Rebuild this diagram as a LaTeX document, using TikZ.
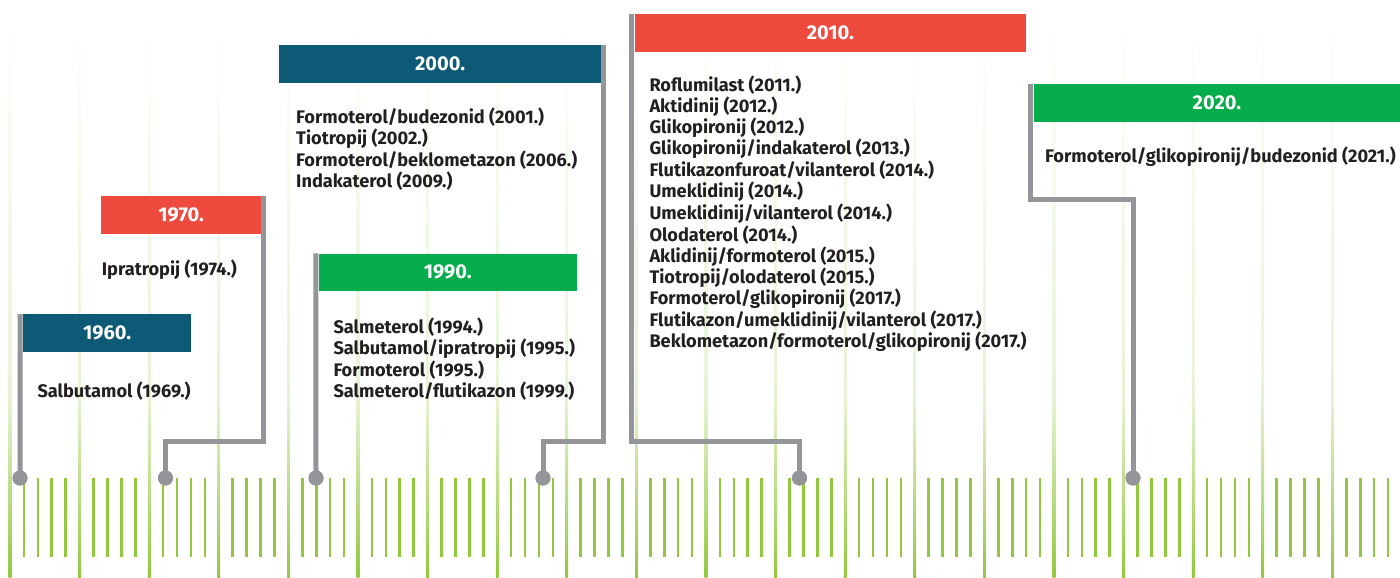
\documentclass[tikz,border=0pt]{standalone}
\usepackage{fontspec}
\setmainfont{Fira Sans}
\definecolor{cblue}{RGB}{12,90,118}
\definecolor{cred}{RGB}{238,75,62}
\definecolor{cgreen}{RGB}{5,172,76}
\definecolor{cgray}{RGB}{148,149,153}
\definecolor{ctext}{RGB}{35,31,32}
\definecolor{tick}{RGB}{146,200,62}
\begin{document}
\begin{tikzpicture}[x=1pt,y=-1pt,
  yearbox/.style={anchor=north west, inner sep=0pt, minimum height=37.7pt, text=white,
    font=\bfseries\fontsize{20}{24}\selectfont},
  itemtext/.style={anchor=west, inner sep=0pt, text=ctext, font=\bfseries\fontsize{18.2}{21}\selectfont},
  conn/.style={draw=cgray, line width=5pt, line join=miter},
  dot/.style={circle, fill=cgray, inner sep=0pt, minimum size=15pt},
  shorttick/.style={draw=tick, line width=2.6pt}]
\useasboundingbox (0,0) rectangle (1400,578);
% ruler
\foreach \k in {0,...,19}{
  \pgfmathsetmacro{\xm}{10+69.6*\k}
  \shade[top color=white, bottom color=tick!22] (\xm-1.4,20) rectangle (\xm+1.4,400);
  \shade[top color=tick!22, bottom color=tick] (\xm-1.4,399.5) rectangle (\xm+1.4,578);
  \foreach \j in {1,...,4}{
    \draw[shorttick] ({\xm+13.92*\j},478) -- ({\xm+13.92*\j},557);
  }
}
% year boxes
\node[yearbox, fill=cblue, minimum width=168.3pt] (b1960) at (22.7,314) {1960.};
\node[yearbox, fill=cred, minimum width=159.7pt] (b1970) at (101,196) {1970.};
\node[yearbox, fill=cgreen, minimum width=258.4pt] (b1990) at (318.3,253.3) {1990.};
\node[yearbox, fill=cblue, minimum width=321.7pt] (b2000) at (279,45) {2000.};
\node[yearbox, fill=cred, minimum width=391.7pt] (b2010) at (634.3,14) {2010.};
\node[yearbox, fill=cgreen, minimum width=366.7pt] (b2020) at (1033.3,84) {2020.};
% dots
\node[dot] (d1960) at (20,478) {};
\node[dot] (d1970) at (165.5,478) {};
\node[dot] (d1990) at (316,478) {};
\node[dot] (d2000) at (543,478) {};
\node[dot] (d2010) at (799.5,478) {};
\node[dot] (d2020) at (1133,478) {};
\coordinate (k1970) at (165.5,441);
\coordinate (k2000) at (543,441);
\coordinate (k2010) at (799.5,441);
\coordinate (k2020) at (1133,199);
% connectors
\draw[conn] ([xshift=-2.5pt]b1960.north west) -- (d1960.center);
\draw[conn] ([xshift=2.6pt]b1970.north east) |- (k1970) -- (d1970.center);
\draw[conn] ([xshift=-2.4pt]b1990.north west) -- (d1990.center);
\draw[conn] ([xshift=2.5pt]b2000.north east) |- (k2000) -- (d2000.center);
\draw[conn] ([xshift=-2.5pt]b2010.north west) |- (k2010) -- (d2010.center);
\draw[conn] ([xshift=-2.6pt]b2020.north west) |- (k2020) -- (d2020.center);
\foreach \n in {d1960,d1970,d1990,d2000,d2010,d2020}{\node[dot] at (\n) {};}
% texts
\node[itemtext] (t1960) at (37.3,390.7) {Salbutamol (1969.)};
\node[itemtext] (t1970) at (101.7,269.3) {Ipratropij (1974.)};
\foreach \t [count=\i] in {Salmeterol (1994.),Salbutamol/ipratropij (1995.),Formoterol (1995.),Salmeterol/flutikazon (1999.)}{
  \node[itemtext] (t1990-\i) at (333.3,{327.3+21.4*(\i-1)}) {\t};
}
\foreach \t [count=\i] in {Formoterol/budezonid (2001.),Tiotropij (2002.),Formoterol/beklometazon (2006.),Indakaterol (2009.)}{
  \node[itemtext] (t2000-\i) at (296,{117.3+21.4*(\i-1)}) {\t};
}
\foreach \t [count=\i] in {Roflumilast (2011.),Aktidinij (2012.),Glikopironij (2012.),Glikopironij/indakaterol (2013.),Flutikazonfuroat/vilanterol (2014.),Umeklidinij (2014.),Umeklidinij/vilanterol (2014.),Olodaterol (2014.),Aklidinij/formoterol (2015.),Tiotropij/olodaterol (2015.),Formoterol/glikopironij (2017.),Flutikazon/umeklidinij/vilanterol (2017.),Beklometazon/formoterol/glikopironij (2017.)}{
  \node[itemtext] (t2010-\i) at (649.3,{85+21.4*(\i-1)}) {\t};
}
\node[itemtext] (t2020) at (1045,156.7) {Formoterol/glikopironij/budezonid (2021.)};
\end{tikzpicture}
\end{document}
